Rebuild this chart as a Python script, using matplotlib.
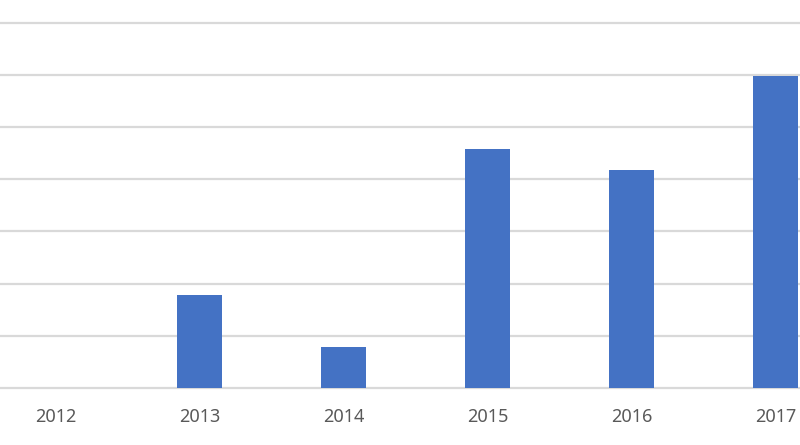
import matplotlib
matplotlib.use("Agg")
import matplotlib.pyplot as plt

years = ["2012", "2013", "2014", "2015", "2016", "2017"]
values = [0.0, 1.78, 0.79, 4.58, 4.18, 5.98]

plt.rcParams['font.family'] = ['Noto Sans', 'DejaVu Sans']

fig = plt.figure(figsize=(8, 4.45), dpi=100)
ax = fig.add_axes([-16.2 / 800, 57 / 445, 863.7 / 800, 8 * 52.2 / 445])

x = list(range(len(years)))
ax.bar(x, values, width=0.3125, color="#4472C4", zorder=3)
ax.set_xlim(-0.5, len(years) - 0.5)
ax.set_ylim(0, 8)
ax.set_yticks(range(0, 8))
ax.yaxis.grid(True, color="#d9d9d9", linewidth=1.6, zorder=0)
ax.set_axisbelow(True)
ax.set_xticks(x)
ax.set_xticklabels(years, fontsize=13, color="#595959")
ax.tick_params(axis='x', length=0, pad=14.5)
ax.tick_params(axis='y', length=0, labelleft=False)
for s in ax.spines.values():
    s.set_visible(False)
for gl in ax.get_ygridlines():
    gl.set_clip_on(False)

fig.savefig("out.png", dpi=100)
